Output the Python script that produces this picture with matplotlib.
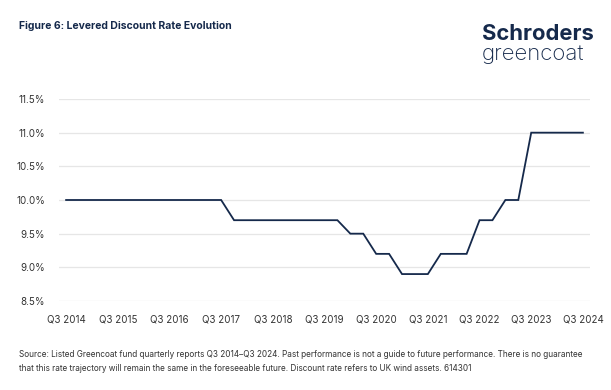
import matplotlib
matplotlib.use("Agg")
import matplotlib.pyplot as plt
import numpy as np

plt.rcParams['font.family'] = ['Inter', 'DejaVu Sans']

# Quarterly data Q3 2014 .. Q3 2024
quarters = []
for y in range(2014, 2025):
    for q in (1, 2, 3, 4):
        if (y == 2014 and q < 3) or (y == 2024 and q > 3):
            continue
        quarters.append(f"Q{q} {y}")

rates = (
    [10.0] * 13 +            # Q3 2014 - Q3 2017
    [9.7] * 9 +              # Q4 2017 - Q4 2019
    [9.5, 9.5] +             # Q1-Q2 2020
    [9.2, 9.2] +             # Q3-Q4 2020
    [8.9, 8.9, 8.9] +        # Q1-Q3 2021
    [9.2, 9.2, 9.2] +        # Q4 2021 - Q2 2022
    [9.7, 9.7] +             # Q3-Q4 2022
    [10.0, 10.0] +           # Q1-Q2 2023
    [11.0] * 5               # Q3 2023 - Q3 2024
)

y_ticks = [8.5, 9.0, 9.5, 10.0, 10.5, 11.0, 11.5]
x_tick_labels = [f"Q3 {y}" for y in range(2014, 2025)]

navy = "#15294b"

fig = plt.figure(figsize=(6.11, 3.90), dpi=100)
ax = fig.add_axes([59/611, 1-301/390, (590-59)/611, (301-99)/390])

x = np.arange(len(quarters))
ax.plot(x, rates, color=navy, lw=1.3, solid_joinstyle='miter')

ax.set_ylim(8.5, 11.5)
ax.set_xlim(-0.55, len(quarters) - 1 + 0.55)
ax.set_yticks(y_ticks)
ax.set_yticklabels([f"{v:.1f}%" for v in y_ticks])
xt = [quarters.index(l) for l in x_tick_labels]
ax.set_xticks(xt)
ax.set_xticklabels(x_tick_labels)
ax.grid(axis='y', color='#e6e6e6', lw=0.9)
ax.set_axisbelow(True)
for s in ax.spines.values():
    s.set_visible(False)
ax.tick_params(length=0, labelsize=7, colors='#333333')
ax.tick_params(axis='y', pad=10)
ax.tick_params(axis='x', pad=10)

fig.text(19/611, 1-26/390, "Figure 6: Levered Discount Rate Evolution",
         fontsize=7.5, fontweight='bold', color=navy, va='center', ha='left')
fig.text(482/611, 1-40/390, "Schroders", fontsize=15.8, fontweight='bold',
         color=navy, va='baseline', ha='left')
fig.text(482/611, 1-60/390, "greencoat", fontsize=16, fontweight='light',
         color=navy, va='baseline', ha='left')

fig.text(19/611, 1-361.5/390,
         "Source: Listed Greencoat fund quarterly reports Q3 2014\u2013Q3 2024. Past performance is not a guide to future performance. There is no guarantee\n"
         "that this rate trajectory will remain the same in the foreseeable future. Discount rate refers to UK wind assets. 614301",
         fontsize=5.9, color='#333333', va='center', ha='left', linespacing=1.6)

fig.savefig("out.png", dpi=100)
